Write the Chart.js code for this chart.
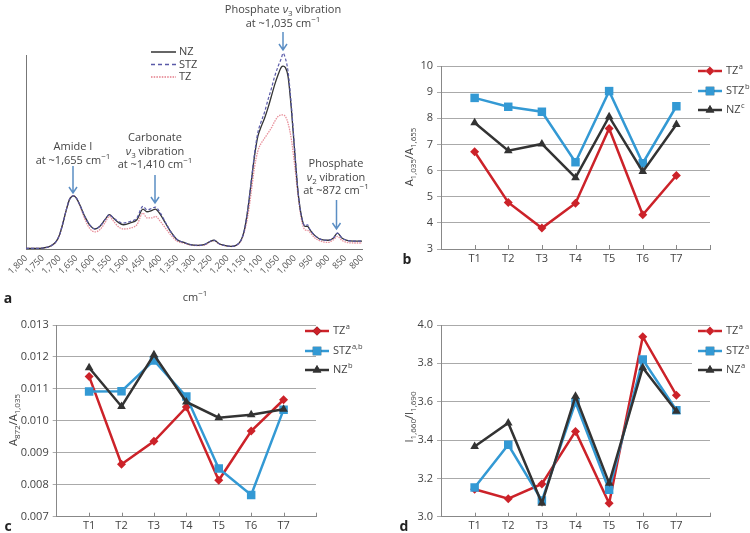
<!DOCTYPE html>
<html><head><meta charset="utf-8">
<script src="https://cdn.jsdelivr.net/npm/chart.js@4.4.1/dist/chart.umd.min.js"></script>
<style>
body{margin:0;background:#fff;font-family:'Open Sans',sans-serif;color:#444}
#wrap{position:relative;width:750px;height:533px;overflow:hidden}
canvas{position:absolute}
.t{position:absolute;white-space:nowrap;font-size:11px;line-height:13.5px;text-align:center;transform:translate(-50%,0);color:#444}
.t sub,.t sup{font-size:8px;line-height:0}
.rot{position:absolute;white-space:nowrap;font-size:11px;color:#444;transform:translate(-50%,-50%) rotate(-90deg)}
.rot sub{font-size:8px;line-height:0}
.lab{position:absolute;font-weight:bold;font-size:14px;color:#222;transform:translate(-50%,-50%)}
</style></head><body>
<div id="wrap">
<canvas id="ca" width="375" height="290" style="left:0;top:0"></canvas>
<canvas id="cb" width="375" height="270" style="left:375px;top:0"></canvas>
<canvas id="cc" width="375" height="268" style="left:0;top:265px"></canvas>
<canvas id="cd" width="375" height="268" style="left:375px;top:265px"></canvas>

<div class="t" style="left:283px;top:2px">Phosphate <i>ν</i><sub>3</sub> vibration<br>at ~1,035 cm<sup>−1</sup></div>
<div class="t" style="left:73px;top:139px">Amide I<br>at ~1,655 cm<sup>−1</sup></div>
<div class="t" style="left:155px;top:130px">Carbonate<br><i>ν</i><sub>3</sub> vibration<br>at ~1,410 cm<sup>−1</sup></div>
<div class="t" style="left:336px;top:156px">Phosphate<br><i>ν</i><sub>2</sub> vibration<br>at ~872 cm<sup>−1</sup></div>
<div class="t" style="left:195px;top:290px">cm<sup>−1</sup></div>

<svg width="375" height="260" style="position:absolute;left:0;top:0" fill="none" stroke="#5b8ec4" stroke-width="1.5">
<path d="M283 32 V50 M279 44 L283 50 L287 44"/>
<path d="M73 166 V193 M69 187 L73 193 L77 187"/>
<path d="M155 175 V203 M151 197 L155 203 L159 197"/>
<path d="M336.5 200 V229 M332.5 223 L336.5 229 L340.5 223"/>
</svg>

<div class="rot" style="left:408px;top:157px">A<sub>1,035</sub>/A<sub>1,655</sub></div>
<div class="rot" style="left:12px;top:420px">A<sub>872</sub>/A<sub>1,035</sub></div>
<div class="rot" style="left:408px;top:417px">I<sub>1,660</sub>/I<sub>1,690</sub></div>

<div class="lab" style="left:8px;top:297px">a</div>
<div class="lab" style="left:407px;top:258px">b</div>
<div class="lab" style="left:8px;top:525px">c</div>
<div class="lab" style="left:404px;top:525px">d</div>
</div>
<script>
// ---------- Panel a: spectra ----------
const wavenumbers = [1800,1775,1750,1725,1710,1700,1690,1680,1670,1658,1650,1640,1625,1610,1595,1580,1565,1552,1540,1525,1510,1490,1470,1452,1440,1425,1415,1400,1385,1370,1350,1330,1310,1290,1270,1250,1240,1225,1210,1190,1175,1160,1150,1140,1130,1120,1110,1100,1090,1080,1070,1060,1050,1040,1035,1028,1020,1010,1000,990,980,970,962,955,940,920,900,885,873,860,845,825,800];
const spectrumNZ = [0.3,0.3,0.5,1.7,3.9,7.4,13.4,20.2,25.7,27.4,26.2,22.8,16.8,12.3,10.3,11.7,15.1,17.7,16.0,13.7,12.5,13.4,15.1,20.6,19.2,19.9,20.6,17.7,13.4,9.1,4.8,3.4,2.2,1.9,2.2,4.1,4.5,2.7,1.9,1.4,1.9,4.5,9.9,20.2,34.0,47.7,58.0,63.1,67.4,72.6,78.6,84.6,89.7,93.7,94.3,93.5,88.9,71.7,49.4,28.8,16.8,11.7,11.7,9.9,6.9,4.8,4.5,5.7,8.2,5.7,4.5,4.1,4.1];
const spectrumSTZ = [0.3,0.3,0.5,1.7,3.9,7.4,13.4,20.2,25.7,27.4,26.2,22.8,16.8,12.3,10.3,11.7,15.1,17.7,16.0,14.2,13.4,14.2,16.0,22.0,20.2,21.0,21.6,18.5,13.8,9.1,4.8,3.4,2.2,1.9,2.2,4.1,4.5,2.7,1.9,1.4,1.9,4.5,9.9,20.5,34.5,49.0,60.0,65.7,70.5,76.8,82.5,88.9,94.0,98.3,100.9,98.3,91.4,73.4,50.5,28.8,16.8,12.0,12.5,10.2,6.9,4.8,4.5,5.7,8.2,5.7,4.5,4.1,4.1];
const spectrumTZ = [0.3,0.3,0.5,1.7,3.9,7.4,13.4,20.2,25.7,27.4,26.2,22.5,15.5,10.5,8.8,10.0,13.5,16.8,14.5,11.5,10.3,10.8,12.5,18.5,16.0,16.0,16.8,14.2,10.8,7.4,4.0,3.0,2.0,1.8,2.0,3.8,4.3,2.5,1.8,1.3,1.8,4.2,9.0,16.8,28.8,42.0,50.5,54.5,57.1,59.7,62.3,65.7,68.3,69.1,69.1,68.3,64.8,56.3,42.5,27.1,15.1,9.9,9.6,8.6,5.7,3.9,3.4,4.8,6.5,4.5,3.4,3.1,3.1];

// ---------- Panels b, c, d ----------
const timepoints = ['T1','T2','T3','T4','T5','T6','T7'];
const ratioB_TZ  = [6.72,4.78,3.80,4.75,7.61,4.31,5.81];
const ratioB_STZ = [8.78,8.44,8.25,6.32,9.04,6.28,8.46];
const ratioB_NZ  = [7.83,6.76,7.02,5.73,8.06,5.96,7.76];
const ratioC_TZ  = [0.01139,0.00864,0.00936,0.01043,0.00814,0.00968,0.01066];
const ratioC_STZ = [0.01092,0.01093,0.01189,0.01076,0.00851,0.00768,0.01035];
const ratioC_NZ  = [0.01166,0.01045,0.01207,0.01059,0.01010,0.01019,0.01036];
const ratioD_TZ  = [3.143,3.094,3.171,3.445,3.070,3.939,3.634];
const ratioD_STZ = [3.152,3.375,3.084,3.597,3.140,3.820,3.555];
const ratioD_NZ  = [3.366,3.489,3.070,3.628,3.175,3.777,3.550];
const legendB = ['TZ|a','STZ|b','NZ|c'];
const legendC = ['TZ|a','STZ|a,b','NZ|b'];
const legendD = ['TZ|a','STZ|a','NZ|a'];

const FONT = "'Open Sans', sans-serif";
const TXT = '#444';
const RED = '#cc2229', BLUE = '#3399d4', DARK = '#333333';

// legend plugin for spectrum panel
const specLegend = {
  id:'specLegend',
  afterDraw(chart){
    const ctx = chart.ctx; ctx.save();
    const items = [['NZ','#333',[]],['STZ','#5a5aa8',[4,3]],['TZ','#e37b88',[1.5,1.2]]];
    items.forEach((it,i)=>{
      const y = 52 + i*12.5;
      ctx.strokeStyle = it[1]; ctx.lineWidth = 1.5; ctx.setLineDash(it[2]);
      ctx.beginPath(); ctx.moveTo(151,y); ctx.lineTo(176,y); ctx.stroke();
      ctx.setLineDash([]);
      ctx.fillStyle = TXT; ctx.font = '11px '+FONT; ctx.textBaseline='middle'; ctx.textAlign='left';
      ctx.fillText(it[0],179,y);
    });
    ctx.restore();
  }
};

new Chart(document.getElementById('ca'),{
  type:'line',
  data:{datasets:[
    {label:'NZ',data:wavenumbers.map((w,i)=>({x:w,y:spectrumNZ[i]})),borderColor:'#333',borderWidth:1.3,pointRadius:0,cubicInterpolationMode:'monotone',clip:false,order:2},
    {label:'STZ',data:wavenumbers.map((w,i)=>({x:w,y:spectrumSTZ[i]})),borderColor:'#5a5aa8',borderWidth:1.2,borderDash:[3,2],pointRadius:0,cubicInterpolationMode:'monotone',clip:false,order:1},
    {label:'TZ',data:wavenumbers.map((w,i)=>({x:w,y:spectrumTZ[i]})),borderColor:'#e8909b',borderWidth:1.3,borderDash:[1.5,1],pointRadius:0,cubicInterpolationMode:'monotone',clip:false,order:3}
  ]},
  options:{
    responsive:false,animation:false,
    layout:{padding:{left:0,right:13,top:55,bottom:0}},
    plugins:{legend:{display:false},tooltip:{enabled:false}},
    scales:{
      x:{type:'linear',min:800,max:1800,reverse:true,
        grid:{display:false,drawTicks:false},border:{color:'#777',width:1},
        ticks:{stepSize:50,autoSkip:false,minRotation:45,maxRotation:45,padding:4,color:'#555',font:{family:FONT,size:9},
          callback:v=>v.toLocaleString('en-US')},
        afterFit(s){s.height=41;}},
      y:{min:0,max:100,grid:{display:false,drawTicks:false},border:{color:'#777',width:1},
        ticks:{display:false},afterFit(s){s.width=26;}}
    }
  },
  plugins:[specLegend]
});

// ---------- helper for ratio panels ----------
function ratioChart(id, tz, stz, nz, labels, cfg){
  const xy = arr => arr.map((v,i)=>({x:i+1,y:v}));
  const legendPlugin = {
    id:'legendP'+id,
    afterDraw(chart){
      const ctx = chart.ctx; ctx.save();
      if(cfg.box){ctx.fillStyle='#fff';ctx.fillRect(cfg.box[0],cfg.box[1],cfg.box[2],cfg.box[3]);}
      const styles=[[RED,'rectRot',4.5],[BLUE,'rect',6],[DARK,'triangle',5]];
      // inner tick marks on x axis
      const xs = chart.scales.x, bottom = chart.chartArea.bottom;
      ctx.strokeStyle='#888'; ctx.lineWidth=1;
      for(let k=1;k<=8;k++){const px=Math.round(xs.getPixelForValue(k))+0.5;ctx.beginPath();ctx.moveTo(px,bottom);ctx.lineTo(px,bottom-4);ctx.stroke();}
      labels.forEach((lab,i)=>{
        const [name,sup]=lab.split('|');
        const y=cfg.ly[i], st=styles[i];
        ctx.strokeStyle=st[0]; ctx.lineWidth=2.5;
        ctx.beginPath(); ctx.moveTo(cfg.lx,y); ctx.lineTo(cfg.lx+24,y); ctx.stroke();
        Chart.helpers.drawPoint(ctx,{pointStyle:st[1],radius:st[2],borderWidth:0,rotation:0},cfg.lx+12,y);
        ctx.fillStyle=st[0]; ctx.fill();
        ctx.fillStyle=TXT; ctx.textBaseline='middle'; ctx.textAlign='left';
        ctx.font='11px '+FONT; ctx.fillText(name,cfg.lx+28,y);
        const w=ctx.measureText(name).width;
        ctx.font='7.5px '+FONT; ctx.fillText(sup,cfg.lx+28+w+0.5,y-4);
      });
      ctx.restore();
    }
  };
  const ds=(label,data,color,style,r,order)=>({label,data:xy(data),borderColor:color,backgroundColor:color,borderWidth:2.5,
    pointStyle:style,pointRadius:r,pointBorderWidth:0,pointBackgroundColor:color,tension:0,order});
  return new Chart(document.getElementById(id),{
    type:'line',
    data:{datasets:[ds('TZ',tz,RED,'rectRot',4.5,3),ds('STZ',stz,BLUE,'rect',6,2),ds('NZ',nz,DARK,'triangle',5,1)]},
    options:{
      responsive:false,animation:false,
      layout:{padding:{left:0,right:cfg.right,top:cfg.top,bottom:0}},
      plugins:{legend:{display:false},tooltip:{enabled:false}},
      scales:{
        x:{type:'linear',min:0,max:8,grid:{display:false,drawTicks:false},border:{color:'#888',width:1},
          ticks:{stepSize:1,autoSkip:false,padding:3,color:TXT,font:{family:FONT,size:11},
            callback:v=>(v>=1&&v<=timepoints.length)?timepoints[v-1]:''},
          afterFit(s){s.height=cfg.xh;}},
        y:{min:cfg.min,max:cfg.max,grid:{color:'#aaa',lineWidth:1,tickLength:4,drawTicks:true},border:{color:'#888',width:1},
          ticks:{stepSize:cfg.step,padding:4,color:TXT,font:{family:FONT,size:11},callback:v=>v.toFixed(cfg.dec)},
          afterFit(s){s.width=cfg.yw;}}
      }
    },
    plugins:[legendPlugin]
  });
}

ratioChart('cb',ratioB_TZ,ratioB_STZ,ratioB_NZ,legendB,
  {min:3,max:10,step:1,dec:0,right:40,top:66,xh:21,yw:66,lx:323,ly:[71,91,110],box:[317,80,58,24]});
ratioChart('cc',ratioC_TZ,ratioC_STZ,ratioC_NZ,legendC,
  {min:0.007,max:0.013,step:0.001,dec:3,right:59,top:60,xh:16.3,yw:56.7,lx:305,ly:[66,86,105],box:null});
ratioChart('cd',ratioD_TZ,ratioD_STZ,ratioD_NZ,legendD,
  {min:3.0,max:4.0,step:0.2,dec:1,right:40,top:60,xh:16.3,yw:66,lx:323,ly:[66,86,105],box:[317,88,58,20]});
</script>
</body></html>
